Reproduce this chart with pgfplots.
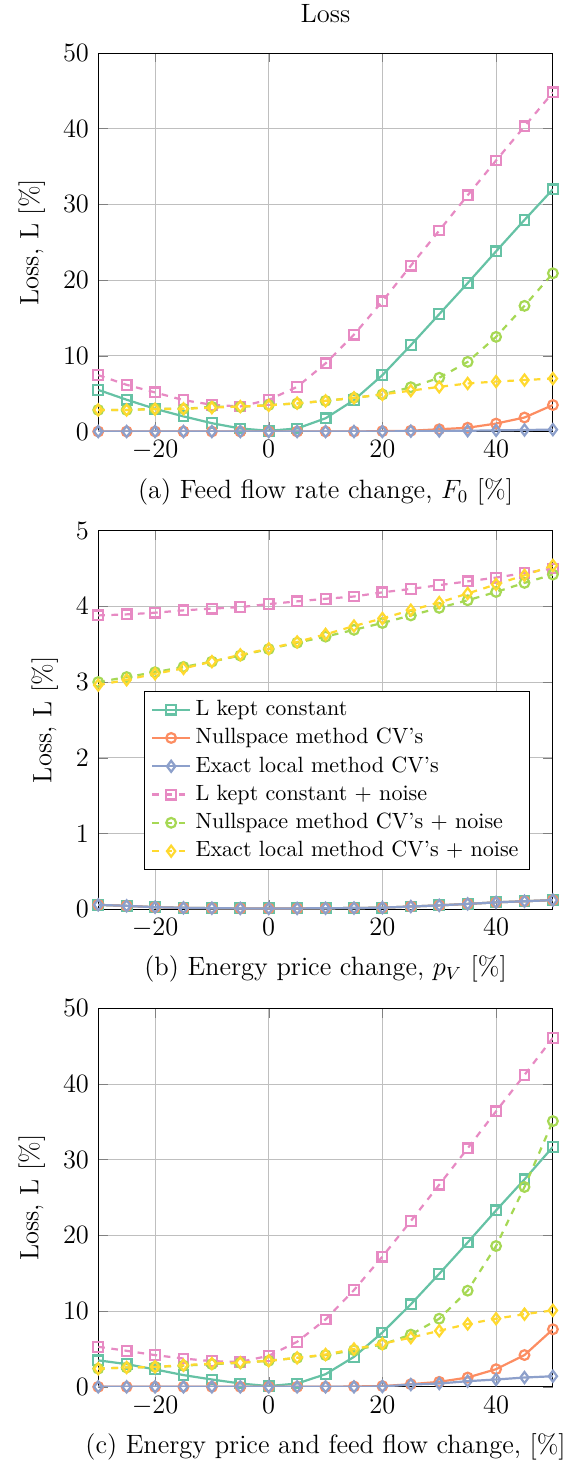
\documentclass[12pt,border=0pt]{standalone}
\usepackage{pgfplots}
\pgfplotsset{compat=1.18}

\definecolor{cA}{RGB}{102,194,165}
\definecolor{cB}{RGB}{252,141,98}
\definecolor{cC}{RGB}{141,160,203}
\definecolor{cD}{RGB}{231,138,195}
\definecolor{cE}{RGB}{166,216,84}
\definecolor{cF}{RGB}{255,217,47}

\pgfplotsset{
  lossax/.style={
    scale only axis,
    width=206pt, height=171.5pt,
    xmin=-30, xmax=50,
    xtick={-20,0,20,40},
    ymin=0,
    grid=major,
    ylabel={Loss, L [\%]},
    clip mode=individual,
  },
  sA/.style={cA, line width=1pt, mark=square, mark size=2.2pt, mark options={solid}},
  sB/.style={cB, line width=1pt, mark=o, mark size=2.2pt, mark options={solid}},
  sC/.style={cC, line width=1pt, mark=diamond, mark size=2.5pt, mark options={solid}},
  sD/.style={cD, line width=1pt, dashed, mark=square, mark size=2.2pt, mark options={solid}},
  sE/.style={cE, line width=1pt, dashed, mark=o, mark size=2.2pt, mark options={solid}},
  sF/.style={cF, line width=1pt, dashed, mark=diamond, mark size=2.5pt, mark options={solid}},
}

\begin{document}
\begin{tikzpicture}
\useasboundingbox (-44.5pt,24pt) rectangle (217.8pt,-637.9pt);

% (a) feed flow rate
\begin{axis}[lossax, at={(0,0)}, anchor=north west,
  ymax=50, ytick={0,10,20,30,40,50},
  title={Loss}, title style={yshift=3.5pt},
  xlabel={(a) Feed flow rate change, $F_0$ [\%]}]
\addplot[sA] coordinates {(-30,5.5)(-25,4.2)(-20,3.0)(-15,2.0)(-10,1.1)(-5,0.4)(0,0.1)(5,0.4)(10,1.75)(15,4.15)(20,7.45)(25,11.4)(30,15.5)(35,19.6)(40,23.8)(45,27.95)(50,32.0)};
\addplot[sB] coordinates {(-30,0)(-25,0)(-20,0)(-15,0)(-10,0)(-5,0)(0,0)(5,0)(10,0)(15,0)(20,0.05)(25,0.1)(30,0.3)(35,0.5)(40,1.05)(45,1.85)(50,3.5)};
\addplot[sC] coordinates {(-30,0)(-25,0)(-20,0)(-15,0)(-10,0)(-5,0)(0,0)(5,0)(10,0)(15,0)(20,0)(25,0.05)(30,0.08)(35,0.1)(40,0.15)(45,0.2)(50,0.25)};
\addplot[sD] coordinates {(-30,7.45)(-25,6.17)(-20,5.16)(-15,4.15)(-10,3.53)(-5,3.31)(0,4.19)(5,5.9)(10,9.0)(15,12.8)(20,17.2)(25,21.9)(30,26.55)(35,31.2)(40,35.8)(45,40.3)(50,44.8)};
\addplot[sE] coordinates {(-30,2.85)(-25,2.85)(-20,3.0)(-15,3.0)(-10,3.26)(-5,3.26)(0,3.5)(5,3.7)(10,4.05)(15,4.45)(20,4.9)(25,5.85)(30,7.1)(35,9.2)(40,12.5)(45,16.6)(50,20.9)};
\addplot[sF] coordinates {(-30,2.85)(-25,2.85)(-20,2.95)(-15,3.0)(-10,3.15)(-5,3.3)(0,3.45)(5,3.75)(10,4.05)(15,4.45)(20,4.9)(25,5.4)(30,5.9)(35,6.35)(40,6.6)(45,6.8)(50,7.0)};
\end{axis}

% (b) energy price
\begin{axis}[lossax, at={(0,-216.4pt)}, anchor=north west,
  ymax=5, ytick={0,1,2,3,4,5},
  xlabel={(b) Energy price change, $p_V$ [\%]},
  legend cell align=left,
  legend style={at={(0.101,0.103)}, anchor=south west, draw=black, font=\footnotesize}]
\addplot[sA] coordinates {(-30,0.057)(-25,0.044)(-20,0.026)(-15,0.018)(-10,0.013)(-5,0.01)(0,0.01)(5,0.01)(10,0.013)(15,0.015)(20,0.02)(25,0.035)(30,0.05)(35,0.07)(40,0.09)(45,0.105)(50,0.12)};
\addlegendentry{L kept constant}
\addplot[sB] coordinates {(-30,0.057)(-25,0.044)(-20,0.026)(-15,0.018)(-10,0.013)(-5,0.01)(0,0.01)(5,0.01)(10,0.013)(15,0.015)(20,0.02)(25,0.035)(30,0.05)(35,0.07)(40,0.09)(45,0.105)(50,0.12)};
\addlegendentry{Nullspace method CV's}
\addplot[sC] coordinates {(-30,0.057)(-25,0.044)(-20,0.026)(-15,0.018)(-10,0.013)(-5,0.01)(0,0.01)(5,0.01)(10,0.013)(15,0.015)(20,0.02)(25,0.035)(30,0.05)(35,0.07)(40,0.09)(45,0.105)(50,0.12)};
\addlegendentry{Exact local method CV's}
\addplot[sD] coordinates {(-30,3.88)(-25,3.894)(-20,3.916)(-15,3.947)(-10,3.97)(-5,3.99)(0,4.03)(5,4.066)(10,4.1)(15,4.13)(20,4.185)(25,4.23)(30,4.28)(35,4.33)(40,4.38)(45,4.44)(50,4.5)};
\addlegendentry{L kept constant + noise}
\addplot[sE] coordinates {(-30,3.0)(-25,3.066)(-20,3.13)(-15,3.2)(-10,3.27)(-5,3.35)(0,3.436)(5,3.52)(10,3.6)(15,3.69)(20,3.78)(25,3.88)(30,3.98)(35,4.08)(40,4.19)(45,4.31)(50,4.42)};
\addlegendentry{Nullspace method CV's + noise}
\addplot[sF] coordinates {(-30,2.96)(-25,3.03)(-20,3.11)(-15,3.18)(-10,3.27)(-5,3.36)(0,3.44)(5,3.53)(10,3.63)(15,3.74)(20,3.84)(25,3.95)(30,4.05)(35,4.17)(40,4.29)(45,4.41)(50,4.54)};
\addlegendentry{Exact local method CV's + noise}
\end{axis}

% (c) energy price and feed flow
\begin{axis}[lossax, at={(0,-432.8pt)}, anchor=north west,
  ymax=50, ytick={0,10,20,30,40,50},
  xlabel={(c) Energy price and feed flow change, [\%]}]
\addplot[sA] coordinates {(-30,3.5)(-25,3.0)(-20,2.3)(-15,1.55)(-10,0.97)(-5,0.44)(0,0.1)(5,0.44)(10,1.67)(15,3.96)(20,7.18)(25,10.9)(30,14.93)(35,19.07)(40,23.3)(45,27.4)(50,31.7)};
\addplot[sB] coordinates {(-30,0)(-25,0)(-20,0)(-15,0)(-10,0)(-5,0)(0,0)(5,0)(10,0)(15,0.05)(20,0.1)(25,0.35)(30,0.66)(35,1.23)(40,2.33)(45,4.2)(50,7.6)};
\addplot[sC] coordinates {(-30,0)(-25,0)(-20,0)(-15,0)(-10,0)(-5,0)(0,0)(5,0)(10,0)(15,0)(20,0.05)(25,0.3)(30,0.44)(35,0.75)(40,0.97)(45,1.23)(50,1.4)};
\addplot[sD] coordinates {(-30,5.29)(-25,4.76)(-20,4.19)(-15,3.74)(-10,3.39)(-5,3.3)(0,4.1)(5,5.95)(10,8.9)(15,12.78)(20,17.2)(25,21.9)(30,26.7)(35,31.5)(40,36.4)(45,41.2)(50,46.1)};
\addplot[sE] coordinates {(-30,2.4)(-25,2.55)(-20,2.64)(-15,2.8)(-10,3.0)(-5,3.17)(0,3.44)(5,3.83)(10,4.19)(15,4.85)(20,5.6)(25,6.9)(30,9.0)(35,12.7)(40,18.6)(45,26.4)(50,35.1)};
\addplot[sF] coordinates {(-30,2.4)(-25,2.55)(-20,2.64)(-15,2.86)(-10,3.08)(-5,3.2)(0,3.44)(5,3.83)(10,4.27)(15,5.0)(20,5.7)(25,6.5)(30,7.4)(35,8.3)(40,9.0)(45,9.6)(50,10.1)};
\end{axis}
\end{tikzpicture}
\end{document}
